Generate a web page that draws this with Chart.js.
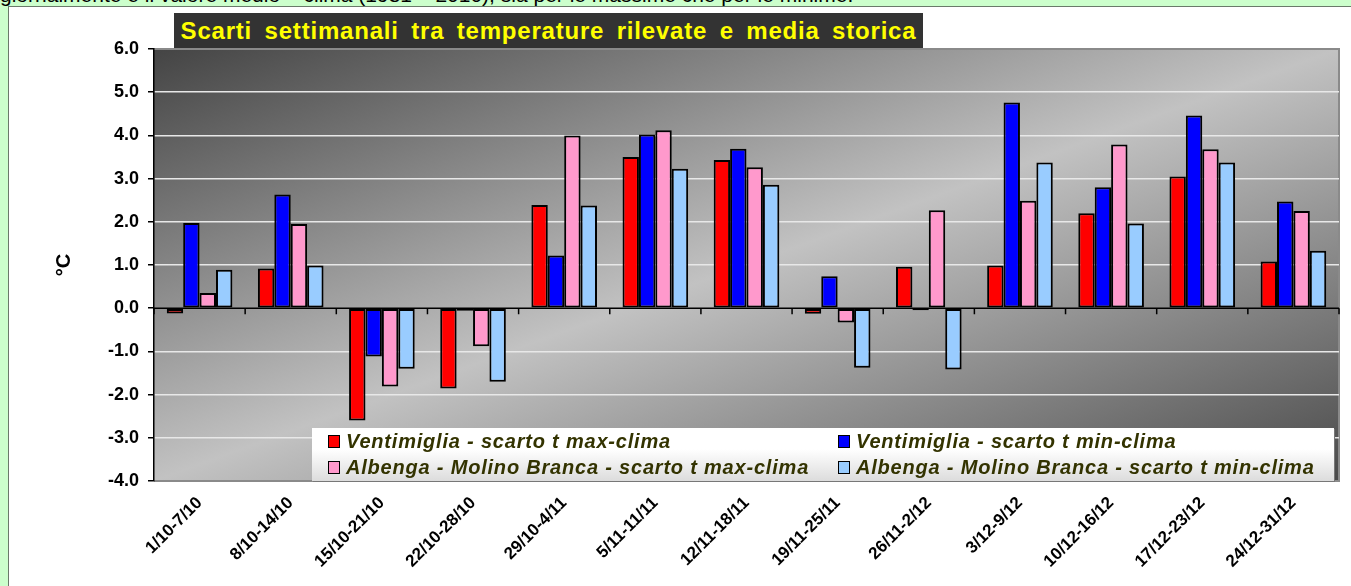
<!DOCTYPE html>
<html>
<head>
<meta charset="utf-8">
<script src="https://cdn.jsdelivr.net/npm/chart.js@4.4.1/dist/chart.umd.min.js"></script>
<style>
    html, body { margin: 0; padding: 0; }
    body { width: 1351px; height: 586px; background: #ccffcc; position: relative; overflow: hidden; font-family: "Liberation Sans", Arial, sans-serif; }
    #toptext { position: absolute; left: 0; top: -17px; font-size: 21px; color: #000; white-space: nowrap; }
    #frame { position: absolute; left: 8px; top: 6px; right: 0; bottom: 0; background: #fff; border-left: 1px solid #6a7a6a; border-top: 1px solid #6a7a6a; }
    #wrap { position: absolute; left: 0; top: 0; width: 1351px; height: 586px; }
    #titolo { position: absolute; left: 174px; top: 13px; width: 749px; height: 35px; background: #333333; color: #ffff00; font-weight: bold; font-size: 24px; line-height: 35px; text-align: center; word-spacing: 5px; letter-spacing: 0.8px; }
    #legenda { position: absolute; left: 312px; top: 428px; width: 1022px; height: 53px; background: linear-gradient(#ffffff, #ffffff 40%, #dcdcdc); box-shadow: 1px 1px 0 #777; display: grid; grid-template-columns: 510px 512px; grid-template-rows: 26px 26px; }
    .voce { display: flex; align-items: center; padding-left: 16px; font-weight: bold; font-style: italic; font-size: 20px; letter-spacing: 0.8px; color: #333300; white-space: nowrap; }
    .voce span.box { display: inline-block; width: 10px; height: 11px; border: 1.5px solid #000; margin-right: 6px; }
</style>
</head>
<body>
<div id="toptext">giornalmente e il valore medio – clima (1981 – 2010), sia per le massime che per le minime.</div>
<div id="frame"></div>
<div id="wrap"><canvas id="grafico" width="1351" height="586"></canvas></div>
<div id="titolo">Scarti settimanali tra temperature rilevate e media storica</div>
<div id="legenda"></div>
<script>
const settimane = ['1/10-7/10', '8/10-14/10', '15/10-21/10', '22/10-28/10', '29/10-4/11', '5/11-11/11', '12/11-18/11',
    '19/11-25/11', '26/11-2/12', '3/12-9/12', '10/12-16/12', '17/12-23/12', '24/12-31/12'];

const ventMax = [-0.12, 0.92, -2.60, -1.86, 2.39, 3.50, 3.43, -0.13, 0.96, 0.99, 2.20, 3.05, 1.08];
const ventMin = [1.97, 2.63, -1.12, -0.06, 1.22, 4.02, 3.69, 0.74, -0.05, 4.76, 2.80, 4.46, 2.47];
const albMax = [0.35, 1.95, -1.81, -0.88, 4.00, 4.12, 3.26, -0.33, 2.27, 2.49, 3.79, 3.68, 2.25];
const albMin = [0.89, 0.99, -1.40, -1.70, 2.38, 3.23, 2.86, -1.38, -1.42, 3.37, 1.96, 3.37, 1.33];

const nomiSerie = ['Ventimiglia - scarto t max-clima', 'Ventimiglia - scarto t min-clima',
    'Albenga - Molino Branca - scarto t max-clima', 'Albenga - Molino Branca - scarto t min-clima'];
const coloriSerie = ['#ff0000', '#0000ff', '#ff99cc', '#99ccff'];

const yTicks = [-4, -3, -2, -1, 0, 1, 2, 3, 4, 5, 6];

document.addEventListener('DOMContentLoaded', function() {
    const ctx = document.getElementById('grafico').getContext('2d');

    // sfondo sfumato dell'area del grafico
    const sfondo = {
        id: 'sfondo',
        beforeDraw(chart) {
            const a = chart.chartArea;
            const W = a.right - a.left, H = a.bottom - a.top;
            const s = 2 / (H / W + W / H);
            const g = chart.ctx.createLinearGradient(a.left, a.top, a.left + s * H, a.top + s * W);
            g.addColorStop(0, '#444444');
            g.addColorStop(0.5, '#c2c2c2');
            g.addColorStop(1, '#4a4a4a');
            chart.ctx.save();
            chart.ctx.fillStyle = g;
            chart.ctx.fillRect(a.left, a.top, W, H);
            chart.ctx.strokeStyle = '#8a8a8a';
            chart.ctx.lineWidth = 2;
            chart.ctx.beginPath();
            chart.ctx.moveTo(a.left, a.top);
            chart.ctx.lineTo(a.right, a.top);
            chart.ctx.lineTo(a.right, a.bottom);
            chart.ctx.lineTo(a.left, a.bottom);
            chart.ctx.stroke();
            chart.ctx.restore();
        },
        beforeDatasetsDraw(chart) {
            const x = chart.scales.x, y = chart.scales.y;
            const y0 = y.getPixelForValue(0);
            const c = chart.ctx;
            c.save();
            c.strokeStyle = '#000';
            c.lineWidth = 1.5;
            c.beginPath();
            c.moveTo(chart.chartArea.left, y0);
            c.lineTo(chart.chartArea.right, y0);
            for (let i = 0; i <= settimane.length; i++) {
                const px = x.getPixelForValue(i - 0.5);
                c.moveTo(px, y0);
                c.lineTo(px, y0 + 6);
            }
            c.stroke();
            c.restore();
        }
    };

    const serie = [ventMax, ventMin, albMax, albMin];

    const chart = new Chart(ctx, {
        type: 'bar',
        data: {
            labels: settimane,
            datasets: serie.map((d, i) => ({
                label: nomiSerie[i],
                data: d,
                backgroundColor: coloriSerie[i],
                borderColor: '#000',
                borderWidth: 2,
                borderSkipped: false,
                barPercentage: 1.0,
                categoryPercentage: 0.72
            }))
        },
        options: {
            responsive: false,
            animation: false,
            layout: { padding: { left: 0, top: 49, right: 12, bottom: 0 } },
            plugins: {
                legend: { display: false },
                tooltip: { enabled: false }
            },
            scales: {
                x: {
                    grid: { display: false },
                    border: { display: false },
                    ticks: {
                        color: '#000',
                        font: { family: 'Liberation Sans, Arial', size: 17, weight: 'bold' },
                        minRotation: 45,
                        maxRotation: 45,
                        padding: 4
                    },
                    afterFit: function(scale) { scale.height = 105; }
                },
                y: {
                    min: -4,
                    max: 6,
                    afterBuildTicks: function(scale) { scale.ticks = yTicks.map(v => ({ value: v })); },
                    grid: {
                        color: function(c) {
                            const v = c.tick ? c.tick.value : null;
                            return (v === 0 || v === 6 || v === -4) ? 'rgba(0,0,0,0)' : '#e8e8e8';
                        },
                        lineWidth: 1.5,
                        tickColor: '#000',
                        tickLength: 6
                    },
                    border: { display: true, color: '#000', width: 1.5 },
                    ticks: {
                        color: '#000',
                        font: { family: 'Liberation Sans, Arial', size: 18, weight: 'bold' },
                        padding: 9,
                        callback: function(v) { return Number(v).toFixed(1); }
                    },
                    title: {
                        display: true,
                        text: '°C',
                        color: '#000',
                        font: { family: 'Liberation Sans, Arial', size: 20, weight: 'bold' },
                        padding: { top: 52, bottom: 0 }
                    },
                    afterFit: function(scale) { scale.width = 154; }
                }
            }
        },
        plugins: [sfondo]
    });

    // legenda su due colonne, dai dati del grafico
    const leg = document.getElementById('legenda');
    chart.data.datasets.forEach(ds => {
        const el = document.createElement('div');
        el.className = 'voce';
        el.innerHTML = '<span class="box" style="background:' + ds.backgroundColor + '"></span>' + ds.label;
        leg.appendChild(el);
    });
});
</script>
</body>
</html>
